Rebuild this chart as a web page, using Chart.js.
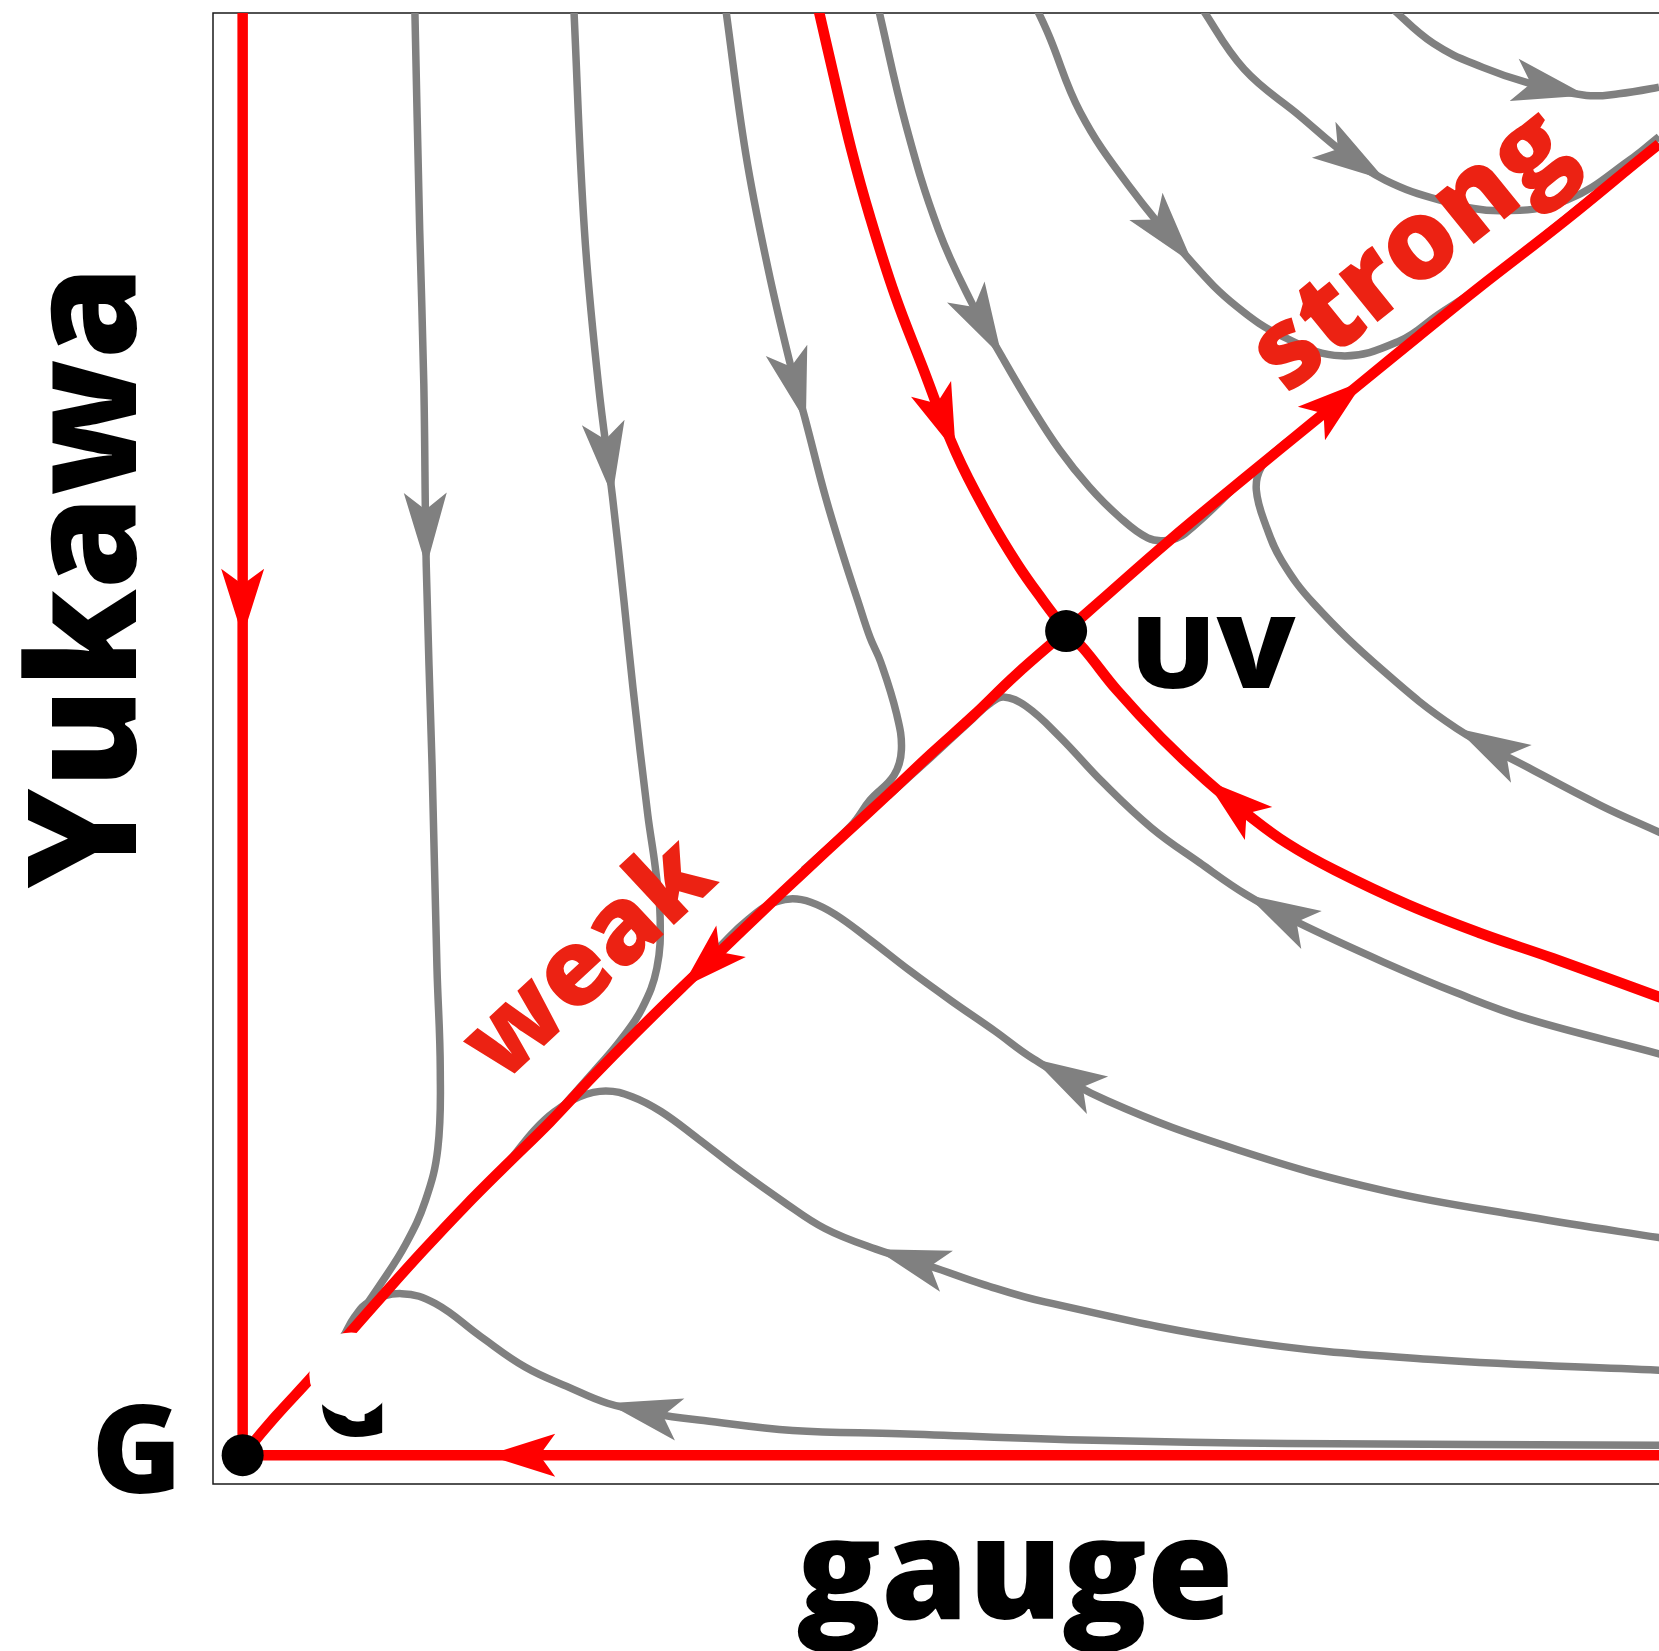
<!DOCTYPE html>
<html>
<head>
<meta charset="utf-8">
<title>RG flow</title>
<script src="https://cdn.jsdelivr.net/npm/chart.js@4.4.1/dist/chart.umd.min.js"></script>
<style>
  html, body { margin: 0; padding: 0; background: #fff; overflow: hidden; }
  #wrap { position: relative; width: 1659px; height: 1651px; }
</style>
</head>
<body>
<div id="wrap"><canvas id="flow"></canvas></div>
<script>
// RG flow in the (gauge, Yukawa) coupling plane.
// Couplings are rescaled so the Gaussian point is (0,0) and the UV fixed point is (1,1).
// Every curve is listed in the direction of the flow (towards the IR).

const fixedPoints = [[0, 0], [1, 1]];

// separatrices (red)
const yukawaAxis = [[0, 1.76], [0, 0.993], [0, 0]];
const gaugeAxis = [[1.8, 0], [0.297, 0], [0, 0]];
const weakBranch = [
  [1, 1], [0.938, 0.946], [0.887, 0.897], [0.836, 0.851], [0.784, 0.802], [0.733, 0.755],
  [0.681, 0.707], [0.630, 0.659], [0.584, 0.615], [0.533, 0.567], [0.476, 0.511], [0.424, 0.458],
  [0.373, 0.404], [0.321, 0.353], [0.270, 0.302], [0.219, 0.248], [0.172, 0.196], [0.127, 0.145],
  [0.085, 0.096], [0.041, 0.048], [0, 0],
];
const strongBranch = [
  [1, 1], [1.041, 1.036], [1.122, 1.107], [1.216, 1.185], [1.298, 1.252], [1.362, 1.304],
  [1.427, 1.357], [1.499, 1.415], [1.607, 1.499], [1.720, 1.591], [1.80, 1.652],
];
const upperInflow = [
  [0.698, 1.76], [0.719, 1.669], [0.739, 1.585], [0.762, 1.502], [0.792, 1.408], [0.825, 1.322],
  [0.866, 1.217], [0.906, 1.139], [0.941, 1.081], [0.972, 1.037], [1, 1],
];
const lowerInflow = [
  [1.80, 0.527], [1.720, 0.556], [1.591, 0.603], [1.504, 0.633], [1.415, 0.668], [1.326, 0.710],
  [1.269, 0.742], [1.221, 0.777], [1.170, 0.819], [1.116, 0.870], [1.062, 0.928], [1.021, 0.979], [1, 1],
];

// sample trajectories (grey)
const flow1 = [
  [0.209, 1.76], [0.215, 1.487], [0.220, 1.300], [0.223, 1.078], [0.230, 0.838],
  [0.236, 0.591], [0.240, 0.467], [0.237, 0.372], [0.222, 0.309], [0.198, 0.256], [0.167, 0.207],
  [0.135, 0.161], [0.113, 0.132],
];
const flow2 = [
  [0.402, 1.76], [0.415, 1.487], [0.432, 1.300], [0.449, 1.164], [0.463, 1.037], [0.474, 0.931],
  [0.492, 0.777], [0.501, 0.714], [0.507, 0.652], [0.503, 0.591], [0.485, 0.542], [0.460, 0.505],
  [0.434, 0.474], [0.386, 0.420],
];
const flow3 = [
  [0.586, 1.76], [0.611, 1.579], [0.638, 1.440], [0.665, 1.324], [0.684, 1.254], [0.708, 1.162],
  [0.731, 1.086], [0.747, 1.037], [0.762, 0.992], [0.775, 0.962], [0.794, 0.900], [0.800, 0.856],
  [0.791, 0.825], [0.762, 0.795], [0.739, 0.764], [0.681, 0.710],
];
const flow4 = [
  [0.771, 1.76], [0.806, 1.612], [0.845, 1.487], [0.884, 1.401], [0.922, 1.333], [0.958, 1.272],
  [0.992, 1.220], [1.028, 1.175], [1.064, 1.139], [1.099, 1.113], [1.122, 1.110], [1.144, 1.118],
  [1.216, 1.185],
];
const flow5 = [
  [0.962, 1.76], [0.979, 1.723], [1.017, 1.630], [1.075, 1.542], [1.154, 1.446], [1.207, 1.394],
  [1.264, 1.357], [1.334, 1.334], [1.405, 1.352], [1.452, 1.384], [1.504, 1.419], [1.607, 1.501],
  [1.720, 1.592], [1.80, 1.655],
];
const flow6 = [
  [1.162, 1.76], [1.216, 1.682], [1.284, 1.625], [1.339, 1.579], [1.388, 1.547], [1.454, 1.523],
  [1.527, 1.510], [1.608, 1.523], [1.689, 1.575], [1.720, 1.600], [1.78, 1.647],
];
const flow7 = [
  [1.391, 1.76], [1.446, 1.713], [1.506, 1.684], [1.562, 1.665], [1.632, 1.650], [1.671, 1.652],
  [1.720, 1.660], [1.78, 1.672],
];
const flow8 = [
  [1.78, 0.728], [1.720, 0.756], [1.650, 0.788], [1.562, 0.834], [1.474, 0.882], [1.386, 0.951],
  [1.301, 1.033], [1.262, 1.085], [1.243, 1.127], [1.231, 1.171], [1.237, 1.199], [1.260, 1.223],
  [1.287, 1.243], [1.327, 1.275], [1.375, 1.313],
];
const flow9 = [
  [1.78, 0.470], [1.720, 0.487], [1.562, 0.529], [1.474, 0.561], [1.386, 0.598], [1.280, 0.647],
  [1.219, 0.680], [1.162, 0.719], [1.104, 0.761], [1.045, 0.816], [0.992, 0.872], [0.951, 0.909],
  [0.924, 0.920], [0.906, 0.911], [0.887, 0.894], [0.836, 0.847], [0.784, 0.800],
];
const flow10 = [
  [1.78, 0.255], [1.720, 0.264], [1.562, 0.289], [1.386, 0.321], [1.210, 0.370], [1.050, 0.430],
  [0.960, 0.481], [0.913, 0.515], [0.861, 0.551], [0.810, 0.588], [0.761, 0.626], [0.720, 0.656],
  [0.690, 0.671], [0.665, 0.675], [0.639, 0.668], [0.614, 0.650], [0.591, 0.629], [0.533, 0.567],
];
const flow11 = [
  [1.78, 0.100], [1.720, 0.103], [1.445, 0.116], [1.210, 0.139], [0.974, 0.186], [0.900, 0.207],
  [0.836, 0.229], [0.769, 0.250], [0.707, 0.275], [0.656, 0.308], [0.604, 0.345], [0.553, 0.384],
  [0.508, 0.417], [0.473, 0.435], [0.441, 0.442], [0.409, 0.435], [0.379, 0.417], [0.354, 0.394],
  [0.321, 0.354], [0.270, 0.303],
];
const flow12 = [
  [1.78, 0.011], [1.720, 0.012], [1.269, 0.014], [1.033, 0.018], [0.798, 0.026], [0.668, 0.030],
  [0.560, 0.042], [0.501, 0.050], [0.443, 0.063], [0.397, 0.082], [0.343, 0.107], [0.289, 0.144],
  [0.234, 0.184], [0.193, 0.196], [0.154, 0.186], [0.136, 0.168], [0.122, 0.143],
];

const RED = '#ff0000';
const GREY = '#808080';
const LABEL_RED = '#ec2213';
const FONT = '"Open Sans", "DejaVu Sans", sans-serif';

const toXY = (pts) => pts.map(([x, y]) => ({ x, y }));

function curve(pts, arrowAt, separatrix) {
  return {
    data: toXY(pts),
    showLine: true,
    borderColor: separatrix ? RED : GREY,
    borderWidth: separatrix ? 10.5 : 7.5,
    borderJoinStyle: 'round',
    pointRadius: 0,
    tension: 0.4,
    clip: 0,
    order: separatrix ? 1 : 2,
    arrowAt,
    arrowLen: separatrix ? 68 : 74,
  };
}

const datasets = [
  {
    data: toXY(fixedPoints),
    showLine: false,
    pointRadius: 21,
    pointHoverRadius: 21,
    pointBackgroundColor: '#000',
    pointBorderWidth: 0,
    order: 0,
  },
  curve(yukawaAxis, 1, true),
  curve(gaugeAxis, 1, true),
  curve(weakBranch, 9, true),
  curve(strongBranch, 5, true),
  curve(upperInflow, 6, true),
  curve(lowerInflow, 8, true),
  curve(flow1, 3, false),
  curve(flow2, 3, false),
  curve(flow3, 4, false),
  curve(flow4, 4, false),
  curve(flow5, 4, false),
  curve(flow6, 4, false),
  curve(flow7, 4, false),
  curve(flow8, 4, false),
  curve(flow9, 6, false),
  curve(flow10, 6, false),
  curve(flow11, 7, false),
  curve(flow12, 8, false),
];

function drawArrow(ctx, tip, from, len, color) {
  const ang = Math.atan2(tip.y - from.y, tip.x - from.x);
  const ux = Math.cos(ang), uy = Math.sin(ang);
  const nx = -uy, ny = ux;
  const half = 21.5;
  const notch = len * 0.23;
  const bx = tip.x - ux * len, by = tip.y - uy * len;
  ctx.beginPath();
  ctx.moveTo(tip.x, tip.y);
  ctx.lineTo(bx + nx * half, by + ny * half);
  ctx.lineTo(bx + ux * notch, by + uy * notch);
  ctx.lineTo(bx - nx * half, by - ny * half);
  ctx.closePath();
  ctx.fillStyle = color;
  ctx.fill();
}

function rotatedText(ctx, text, x, y, deg, size, color, drop) {
  ctx.save();
  ctx.translate(x, y);
  ctx.rotate(-deg * Math.PI / 180);
  ctx.font = `800 ${size}px ${FONT}`;
  ctx.fillStyle = color;
  ctx.textAlign = 'center';
  ctx.textBaseline = 'alphabetic';
  ctx.fillText(text, 0, drop * size);
  ctx.restore();
}

const flowDecor = {
  id: 'flowDecor',
  beforeDatasetsDraw(chart) {
    const { ctx, chartArea: a } = chart;
    ctx.save();
    ctx.strokeStyle = '#1a1a1a';
    ctx.lineWidth = 1.5;
    ctx.beginPath();
    ctx.moveTo(a.right + 2, a.top);
    ctx.lineTo(a.left, a.top);
    ctx.lineTo(a.left, a.bottom);
    ctx.lineTo(a.right + 2, a.bottom);
    ctx.stroke();
    ctx.restore();
  },
  afterDatasetsDraw(chart) {
    const { ctx, scales: { x, y } } = chart;
    ctx.save();
    // grey heads first, red ones on top
    [false, true].forEach((red) => {
      chart.data.datasets.forEach((ds, i) => {
        if (ds.arrowAt === undefined || (ds.borderColor === RED) !== red) return;
        const pts = chart.getDatasetMeta(i).data;
        drawArrow(ctx, pts[ds.arrowAt], pts[ds.arrowAt - 1], ds.arrowLen, ds.borderColor);
      });
    });

    // partly masked "G" tag next to the Gaussian point
    ctx.font = `800 97px ${FONT}`;
    ctx.fillStyle = '#000';
    ctx.textAlign = 'center';
    ctx.textBaseline = 'alphabetic';
    ctx.fillText('G', x.getPixelForValue(0.134), y.getPixelForValue(0.023));
    ctx.beginPath();
    ctx.arc(x.getPixelForValue(0.132), y.getPixelForValue(0.098), 42, 0, Math.PI * 2);
    ctx.fillStyle = '#fff';
    ctx.fill();

    // branch names
    rotatedText(ctx, 'weak', x.getPixelForValue(0.414), y.getPixelForValue(0.608), 43, 106, LABEL_RED, 0.38);
    rotatedText(ctx, 'strong', x.getPixelForValue(1.427), y.getPixelForValue(1.452), 39, 112, LABEL_RED, 0.215);

    // fixed point names
    const g0 = { x: x.getPixelForValue(0), y: y.getPixelForValue(0) };
    const uv = { x: x.getPixelForValue(1), y: y.getPixelForValue(1) };
    ctx.fillStyle = '#000';
    ctx.textBaseline = 'alphabetic';
    ctx.textAlign = 'center';
    ctx.font = `800 122px ${FONT}`;
    ctx.fillText('G', g0.x - 106, g0.y + 38);
    ctx.save();
    ctx.translate(uv.x + 64, uv.y + 57);
    ctx.scale(1.14, 1);
    ctx.textAlign = 'left';
    ctx.font = `800 100px ${FONT}`;
    ctx.fillText('UV', 0, 0);
    ctx.restore();

    // axis titles
    ctx.textAlign = 'center';
    ctx.font = `800 140px ${FONT}`;
    ctx.fillText('gauge', 1015, 1619);
    rotatedText(ctx, 'Yukawa', 136, 577, 90, 150, '#000', 0);
    ctx.restore();
  },
};

new Chart(document.getElementById('flow'), {
  type: 'scatter',
  data: { datasets },
  options: {
    responsive: true,
    maintainAspectRatio: false,
    animation: false,
    devicePixelRatio: 1,
    layout: { autoPadding: false, padding: { left: 213, top: 13, right: 0, bottom: 167 } },
    events: [],
    plugins: { legend: { display: false }, tooltip: { enabled: false } },
    scales: {
      x: { type: 'linear', min: -0.036, max: 1.72, display: false },
      y: { type: 'linear', min: -0.035, max: 1.75, display: false },
    },
  },
  plugins: [flowDecor],
});
</script>
</body>
</html>
